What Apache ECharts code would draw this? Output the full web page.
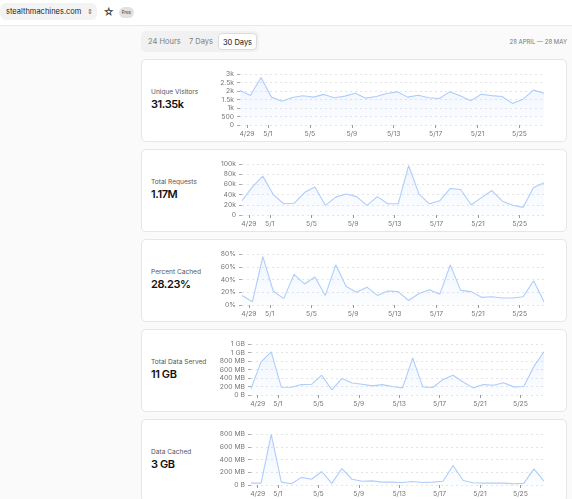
<!DOCTYPE html>
<html>
<head>
<meta charset="utf-8">
<script src="https://cdn.jsdelivr.net/npm/echarts@6/dist/echarts.min.js"></script>
<style>
  html, body { margin: 0; padding: 0; }
  body {
    width: 572px; height: 499px; overflow: hidden; position: relative;
    background: #fafafa; font-family: Inter, "Noto Sans", sans-serif; color: #222;
  }
  .topbar {
    position: absolute; left: 0; top: 0; width: 572px; height: 25px;
    background: #fff; border-bottom: 1px solid #e9e9e9;
  }
  .site {
    position: absolute; left: 0; top: 3px; width: 97px; height: 17px;
    background: #f3f3f3; border-radius: 6px; font-size: 7.5px; line-height: 17px;
    padding-left: 6px; box-sizing: border-box; color: #222;
  }
  .site .chev { position: absolute; left: 87px; top: 0; font-size: 7px; color: #666; }
  .star { position: absolute; left: 103px; top: 5px; font-size: 11px; line-height: 14px; color: #333; }
  .free {
    position: absolute; left: 119px; top: 7px; width: 15px; height: 11px;
    background: #e2e2e2; border-radius: 6px; font-size: 4.5px; line-height: 11px;
    text-align: center; color: #333;
  }
  .tabs {
    position: absolute; left: 141px; top: 31px; width: 118px; height: 21px;
    background: #f1f1f1; border-radius: 5px; font-size: 7.5px; color: #808080;
  }
  .tabs span { position: absolute; top: 0; line-height: 21px; }
  .tabs .on {
    left: 77px; top: 2px; width: 39px; height: 17px; line-height: 17px; text-align: center;
    background: #fff; border: 1px solid #dcdcdc; border-radius: 4px; box-sizing: border-box; color: #111;
  }
  .range { position: absolute; right: 5px; top: 38px; font-size: 6px; color: #777; font-weight: 400; }
  .card {
    position: absolute; left: 141px; width: 426px; height: 83px;
    background: #fff; border: 1px solid #e6e6e6; border-radius: 5px; box-sizing: border-box;
  }
  .card .name { position: absolute; left: 9px; top: 28px; font-size: 6.6px; color: #555; }
  .card .total { position: absolute; left: 9px; top: 37px; font-size: 11px; font-weight: 600; color: #111; letter-spacing: -0.4px; }
  .card .chart { position: absolute; left: -1px; top: -1px; width: 426px; height: 83px; }
</style>
</head>
<body>
<div class="topbar">
  <div class="site">stealthmachines.com<span class="chev">&#8661;</span></div>
  <div class="star">&#9734;</div>
  <div class="free">Free</div>
</div>
<div class="tabs">
  <span style="left:7px">24 Hours</span>
  <span style="left:48px">7 Days</span>
  <span class="on">30 Days</span>
</div>
<div class="range">28 APRIL — 28 MAY</div>
<div id="cards"></div>
<script>
// 30 days of data, first point 4/28 (year 2025)
const startDay = [2025, 3, 28]
const xTickLabels = ['4/29', '5/1', '5/5', '5/9', '5/13', '5/17', '5/21', '5/25']

const visitors = [2030, 1730, 2800, 1640, 1400, 1620, 1720, 1640, 1800, 1600,
  1700, 1870, 1580, 1680, 1850, 1950, 1640, 1750, 1600, 1560,
  1950, 1720, 1420, 1810, 1730, 1680, 1270, 1520, 2050, 1870]
const requests = [28, 55, 76, 40, 22, 23, 44, 55, 19, 35,
  41, 36, 19, 36, 22, 22, 97, 41, 22, 28,
  52, 50, 20, 34, 48, 27, 19, 15, 54, 63]
const percentCached = [15, 5, 76, 22, 10, 48, 33, 44, 15, 63,
  29, 20, 28, 15, 22, 21, 7, 18, 24, 17,
  63, 23, 21, 12, 13, 11, 11, 13, 38, 5]
// MB
const dataServed = [153, 780, 1017, 183, 183, 245, 252, 466, 122, 390,
  283, 252, 214, 245, 199, 168, 872, 191, 176, 367,
  466, 306, 168, 245, 229, 290, 191, 199, 673, 1017]
const dataCached = [30, 30, 795, 45, 20, 120, 90, 212, 25, 258,
  90, 60, 65, 45, 45, 40, 55, 40, 45, 60,
  305, 70, 35, 30, 30, 30, 20, 25, 253, 60]

const fmtK = (v) => (v === 0 ? '0' : v >= 1000 ? v / 1000 + 'k' : '' + v)
const fmtMB = (v) => (v === 0 ? '0 B' : v >= 1000 ? Math.round(v / 1000) + ' GB' : v + ' MB')

const cards = [
  { name: 'Unique Visitors', total: '31.35k', data: visitors, max: 3000, step: 500, fmt: fmtK, left: 99 },
  { name: 'Total Requests', total: '1.17M', data: requests, max: 100, step: 20, fmt: (v) => (v === 0 ? '0' : v + 'k'), left: 101 },
  { name: 'Percent Cached', total: '28.23%', data: percentCached, max: 80, step: 20, fmt: (v) => v + '%', left: 101 },
  { name: 'Total Data Served', total: '11 GB', data: dataServed, max: 1200, step: 200, fmt: fmtMB, left: 110 },
  { name: 'Data Cached', total: '3 GB', data: dataCached, max: 800, step: 200, fmt: fmtMB, left: 110 }
]

// x 轴用“距 4/28 0 点的天数”，数据点在每天 8 点左右
const pointHour = 8 / 24
const start = new Date(startDay[0], startDay[1], startDay[2]).getTime()
const tickDays = xTickLabels.map((s) => {
  const [m, d] = s.split('/').map(Number)
  return Math.round((new Date(startDay[0], m - 1, d).getTime() - start) / 86400000)
})
const labelOf = (v) => xTickLabels[tickDays.indexOf(Math.round(v))] || ''

const box = document.getElementById('cards')
cards.forEach((c, k) => {
  const card = document.createElement('div')
  card.className = 'card'
  card.style.top = 59 + k * 90 + 'px'
  card.innerHTML = '<div class="name">' + c.name + '</div><div class="total">' + c.total + '</div><div class="chart"></div>'
  box.appendChild(card)

  const chart = echarts.init(card.querySelector('.chart'))
  chart.setOption({
    animation: false,
    grid: { left: c.left, right: 23, top: 15, bottom: 17 },
    xAxis: {
      type: 'value',
      min: pointHour,
      max: c.data.length - 1 + pointHour,
      axisLine: { show: false },
      axisTick: { show: true, customValues: tickDays, length: 3, lineStyle: { color: '#999' } },
      axisLabel: {
        customValues: tickDays,
        fontSize: 6.8, color: '#777', margin: 5, fontFamily: 'Inter',
        formatter: labelOf
      },
      splitLine: { show: false }
    },
    yAxis: {
      type: 'value', min: 0, max: c.max, interval: c.step,
      axisLine: { show: false },
      axisTick: { show: true, length: 3, lineStyle: { color: '#aaa' } },
      axisLabel: { fontSize: 6.8, color: '#777', margin: 6, fontFamily: 'Inter', formatter: c.fmt },
      splitLine: { lineStyle: { color: '#e4e4e4', type: [2, 3] } }
    },
    series: [{
      type: 'line',
      data: c.data.map((v, i) => [i + pointHour, v]),
      showSymbol: false,
      lineStyle: { color: '#aecdfb', width: 1.1 },
      areaStyle: {
        color: new echarts.graphic.LinearGradient(0, 0, 0, 1, [
          { offset: 0, color: 'rgba(174,205,251,0.28)' },
          { offset: 1, color: 'rgba(174,205,251,0.05)' }
        ])
      }
    }]
  })
})
</script>
</body>
</html>
